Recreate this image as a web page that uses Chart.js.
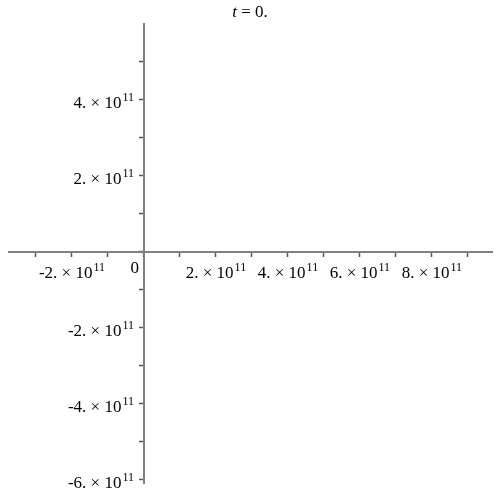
<!DOCTYPE html>
<html>
<head>
<meta charset="utf-8">
<script src="https://cdn.jsdelivr.net/npm/chart.js@4.4.0/dist/chart.umd.min.js"></script>
<style>
  html, body { margin: 0; padding: 0; background: #fff; }
  #wrap { width: 500px; height: 500px; }
</style>
</head>
<body>
<div id="wrap"><canvas id="chart" width="500" height="500"></canvas></div>
<script>
// axis ranges
const xRange = [-3.75e11, 9.67e11];
const yRange = [-6.08e11, 6.0e11];

// every tick mark (major and minor)
const xTickValues = [-3e11, -2e11, -1e11, 0, 1e11, 2e11, 3e11, 4e11, 5e11, 6e11, 7e11, 8e11, 9e11];
const yTickValues = [-6e11, -5e11, -4e11, -3e11, -2e11, -1e11, 0, 1e11, 2e11, 3e11, 4e11, 5e11];

// labelled ticks
const xLabelValues = [-2e11, 2e11, 4e11, 6e11, 8e11];
const xLabelText = ["-2.", "2.", "4.", "6.", "8."];
const yLabelValues = [4e11, 2e11, -2e11, -4e11, -6e11];
const yLabelText = ["4.", "2.", "-2.", "-4.", "-6."];
const exponent = "11";
const titleVar = "t";
const titleRest = " = 0.";

const FONT = "'Liberation Serif', 'Times New Roman', serif";

// draws "m × 10^11" with a raised exponent
function drawSci(ctx, mant, x, y, align) {
  const base = mant + " \u00d7 10";
  ctx.font = "17px " + FONT;
  const w1 = ctx.measureText(base).width;
  ctx.font = "12px " + FONT;
  const w2 = ctx.measureText(exponent).width;
  const total = w1 + 1 + w2;
  let left = x;
  if (align === "center") left = x - total / 2;
  if (align === "right") left = x - total;
  ctx.textAlign = "left";
  ctx.textBaseline = "alphabetic";
  ctx.font = "17px " + FONT;
  ctx.fillText(base, left, y);
  ctx.font = "12px " + FONT;
  ctx.fillText(exponent, left + w1 + 1, y - 7);
}

const labelPlugin = {
  id: "mapleLabels",
  afterDraw(chart) {
    const ctx = chart.ctx;
    const xs = chart.scales.x, ys = chart.scales.y;
    const x0 = xs.getPixelForValue(0), y0 = ys.getPixelForValue(0);
    ctx.save();
    ctx.fillStyle = "#000";
    xLabelValues.forEach((v, i) => {
      drawSci(ctx, xLabelText[i], xs.getPixelForValue(v), y0 + 26, "center");
    });
    yLabelValues.forEach((v, i) => {
      drawSci(ctx, yLabelText[i], x0 - 10, ys.getPixelForValue(v) + 8, "right");
    });
    // origin label
    ctx.font = "17px " + FONT;
    ctx.textAlign = "right";
    ctx.fillText("0", x0 - 5, y0 + 21);
    // title
    ctx.font = "italic 17px " + FONT;
    const wt = ctx.measureText(titleVar).width;
    ctx.font = "17px " + FONT;
    const wr = ctx.measureText(titleRest).width;
    const left = 250 - (wt + wr) / 2;
    ctx.textAlign = "left";
    ctx.font = "italic 17px " + FONT;
    ctx.fillText(titleVar, left, 17);
    ctx.font = "17px " + FONT;
    ctx.fillText(titleRest, left + wt, 17);
    ctx.restore();
  }
};

function axisOpts(range, pos, isX, tickValues) {
  return {
    type: "linear",
    min: range[0],
    max: range[1],
    position: pos,
    afterFit: s => { if (isX) s.height = 0; else s.width = 0; },
    afterBuildTicks: s => { s.ticks = tickValues.map(v => ({ value: v })); },
    border: { display: true, color: "#808080", width: 2 },
    grid: {
      display: true,
      drawOnChartArea: false,
      drawTicks: true,
      tickLength: 4,
      tickColor: "#555",
      tickWidth: 1.5
    },
    ticks: { display: false }
  };
}

new Chart(document.getElementById("chart"), {
  type: "scatter",
  data: { datasets: [{ data: [], pointRadius: 0 }] },
  options: {
    responsive: false,
    animation: false,
    layout: { padding: { left: 9, right: 8, top: 24, bottom: 17 } },
    plugins: { legend: { display: false }, tooltip: { enabled: false } },
    scales: {
      x: axisOpts(xRange, { y: 0 }, true, xTickValues),
      y: axisOpts(yRange, { x: 0 }, false, yTickValues)
    }
  },
  plugins: [labelPlugin]
});
</script>
</body>
</html>
